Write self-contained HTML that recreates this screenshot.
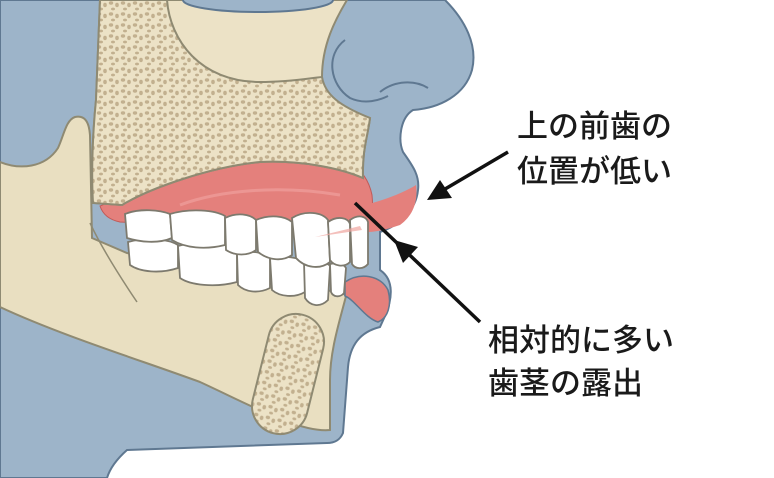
<!DOCTYPE html>
<html><head><meta charset="utf-8"><style>
html,body{margin:0;padding:0;background:#fff;}
svg{display:block}
text{font-family:"Liberation Sans","Noto Sans CJK JP",sans-serif;font-size:31px;fill:#1a1a1a;font-weight:500}
</style></head><body>
<svg width="774" height="478" viewBox="0 0 774 478" xmlns="http://www.w3.org/2000/svg">
<defs>
<pattern id="st" width="12" height="11" patternUnits="userSpaceOnUse">
<rect width="12" height="11" fill="#ece2c6"/>
<ellipse cx="3" cy="3" rx="2.2" ry="1.7" fill="#c2b08f"/>
<ellipse cx="9" cy="5" rx="1.8" ry="2.2" fill="#c2b08f"/>
<ellipse cx="5" cy="9" rx="2" ry="1.4" fill="#c2b08f"/>
</pattern>
</defs>
<!-- face blue -->
<path d="M0,0 L445,0 C465,20 478,45 472,70 C465,95 440,108 413,110 C400,118 398,140 403,152 C412,165 420,175 418,190 C416,210 400,225 380,232 L380,270 C395,280 392,300 385,316 L380,327 C360,332 350,345 348,367 L343,433 C340,440 335,443 327,443 L127,450 C118,458 110,468 107,478 L0,478 Z" fill="#9db4c9" stroke="#5f7891" stroke-width="2"/>
<!-- nostril -->
<path d="M345,40 C325,55 330,85 350,98 C365,105 380,100 388,96" fill="none" stroke="#5f7891" stroke-width="2"/>
<path d="M380,92 C395,80 415,80 428,88" fill="none" stroke="#5f7891" stroke-width="2"/>
<!-- mandible -->
<path d="M0,162 C20,170 45,168 58,148 C64,135 66,120 75,117 C85,115 89,122 90,135 L92,238 L127,253 L300,290 C325,292 340,288 346,296 C340,320 330,350 330,380 L330,430 C300,433 250,405 200,382 C140,360 60,335 0,307 Z" fill="#e9dfc1" stroke="#8f8a72" stroke-width="2"/>
<path d="M90,223 C98,240 110,262 137,302" fill="none" stroke="#8f8a72" stroke-width="1.5"/>
<!-- symphysis -->
<rect x="260" y="313" width="56" height="122" rx="28" transform="rotate(14 288 374)" fill="url(#st)" stroke="#8f8a72" stroke-width="2"/>
<!-- gum -->
<path d="M100,206 C150,185 220,155 300,152 C340,152 366,165 372,195 C374,215 370,228 365,233 L120,222 C110,220 103,215 100,206 Z" fill="#e4807c" stroke="#c05a58" stroke-width="1"/>
<path d="M180,205 C220,190 280,185 340,195" fill="none" stroke="#f0a09c" stroke-width="3" opacity="0.7"/>
<!-- maxilla -->
<path d="M100,0 L347,0 C335,20 322,45 322,77 C322,92 335,105 370,118 C368,135 362,150 363,178 C340,168 300,160 260,162 C210,167 150,188 122,205 L93,203 C91,170 93,130 96,100 Z" fill="#ece2c6" stroke="#8f8a72" stroke-width="2"/>
<path d="M100,0 L167,0 C170,40 200,82 260,82 C290,82 310,78 322,77 C325,95 340,106 370,118 C368,135 362,150 363,178 C340,168 300,160 260,162 C210,167 150,188 122,205 L93,203 C91,170 93,130 96,100 Z" fill="url(#st)" stroke="#8f8a72" stroke-width="2"/>
<ellipse cx="258" cy="0" rx="75" ry="12" fill="#9db4c9" stroke="#5f7891" stroke-width="2"/>
<!-- upper lip pink -->
<path d="M365,205 C385,200 405,192 416,185 C418,200 414,215 400,225 C385,230 375,232 368,232 Z" fill="#e4807c"/>
<!-- lower lip -->
<path d="M345,282 C360,272 380,275 388,290 C392,305 388,318 378,322 C365,318 355,300 345,296 Z" fill="#e4807c" stroke="#5f7891" stroke-width="1.5"/>
<!-- lower teeth -->
<g fill="#fff" stroke="#7d7a6e" stroke-width="1.8">
<path d="M128,242 C150,236 170,240 178,245 L178,268 C160,274 140,272 130,265 Z"/>
<path d="M178,246 C200,240 225,242 237,250 L237,282 C215,288 190,285 180,278 Z"/>
<path d="M237,254 C250,250 265,252 270,258 L270,288 C258,294 245,292 238,285 Z"/>
<path d="M270,258 C285,255 300,258 305,262 L305,292 C295,298 280,297 272,290 Z"/>
<path d="M304,262 C315,260 327,262 330,266 L328,300 C320,308 310,306 305,298 Z"/>
<path d="M330,264 C337,262 344,264 346,268 L344,293 C340,298 333,297 331,292 Z"/>
</g>
<!-- upper teeth -->
<g fill="#fff" stroke="#7d7a6e" stroke-width="1.8">
<path d="M125,214 C140,208 160,210 170,214 L172,238 C158,244 140,242 127,238 Z"/>
<path d="M170,214 C190,208 215,210 225,216 L225,245 C205,250 185,248 172,240 Z"/>
<path d="M225,218 C237,212 250,214 256,220 L256,250 C248,256 235,256 226,250 Z"/>
<path d="M256,220 C270,214 285,216 292,222 L292,255 C282,262 268,260 258,252 Z"/>
<path d="M292,218 C305,210 322,212 328,220 L330,262 C320,270 305,268 296,258 Z"/>
<path d="M328,222 C338,215 348,218 350,224 L350,262 C344,268 334,266 330,260 Z"/>
<path d="M350,220 C358,214 366,216 368,222 L368,264 C363,270 355,269 352,264 Z"/>
</g>
<path d="M315,237 L360,226 L362,230 Z" fill="#f0a5a0" opacity="0.7"/>
<!-- arrows -->
<g stroke="#111" stroke-width="3.5" fill="#111">
<line x1="508" y1="152" x2="440" y2="192"/>
<polygon points="427,200 440,180 452,198" stroke="none"/>
<line x1="355" y1="203" x2="480" y2="322"/>
<polygon points="396,243 420,250 405,266" stroke="none" transform="translate(-2,-3)"/>
</g>
<text x="517" y="137">上の前歯の</text>
<text x="517" y="182">位置が低い</text>
<text x="488" y="351">相対的に多い</text>
<text x="488" y="394">歯茎の露出</text>
</svg>
</body></html>
